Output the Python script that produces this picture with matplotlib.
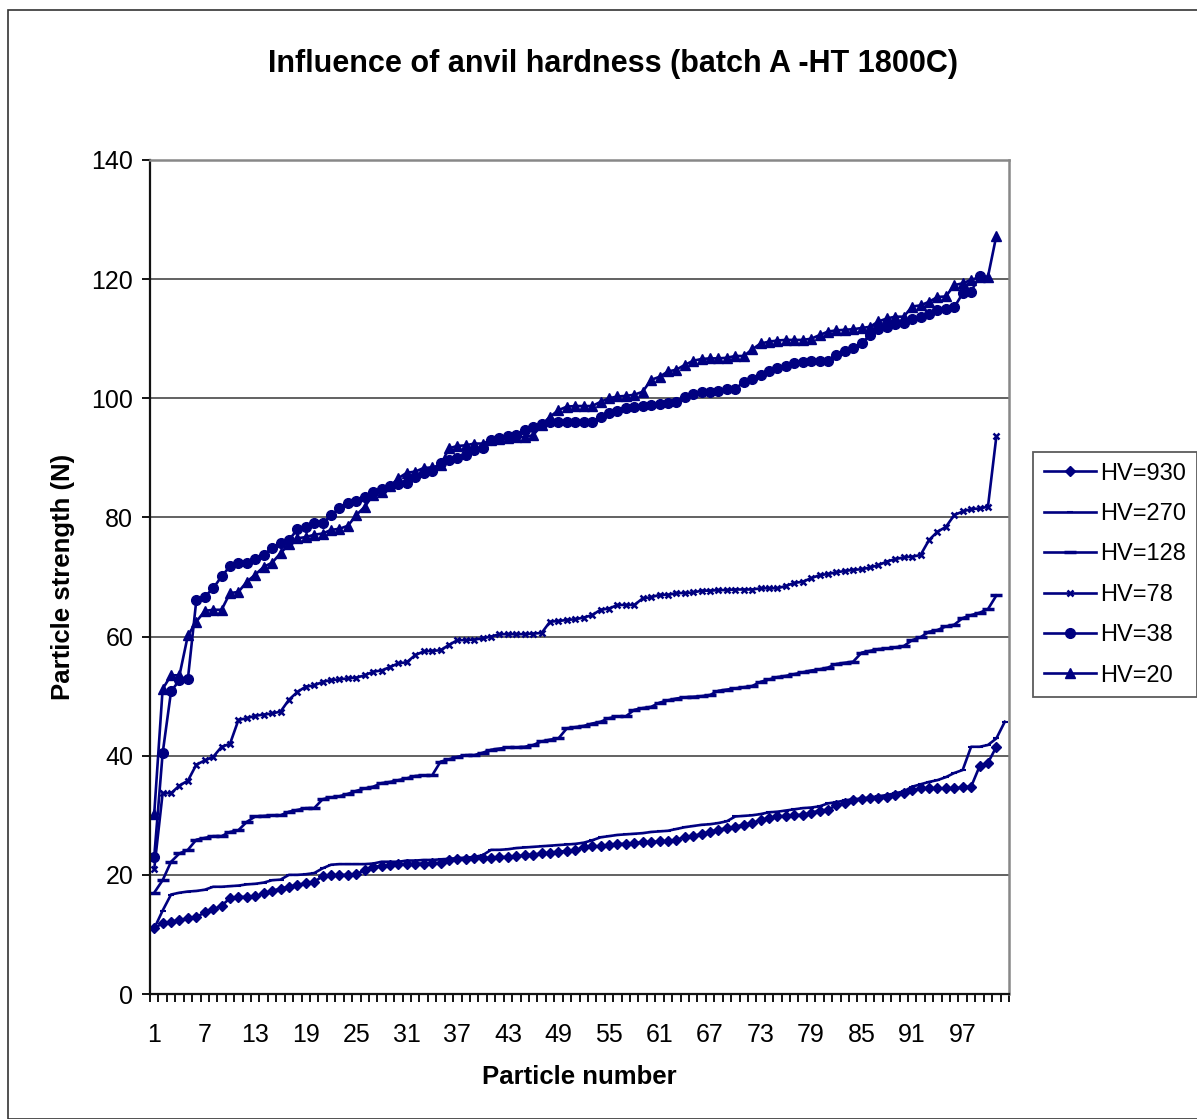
import matplotlib
matplotlib.use("Agg")
import matplotlib.pyplot as plt
from matplotlib.patches import Rectangle
import numpy as np

plt.rcParams['font.family'] = ['Liberation Sans', 'DejaVu Sans']

title = "Influence of anvil hardness (batch A -HT 1800C)"
x_label = "Particle number"
y_label = "Particle strength (N)"

n_categories = 102
x_tick_labels = [str(v) for v in range(1, 98, 6)]

hv930 = [11.0, 11.9, 12.1, 12.4, 12.7, 12.9, 13.7, 14.2, 14.8, 16.1,
         16.3, 16.3, 16.4, 16.9, 17.3, 17.7, 18.0, 18.3, 18.6, 18.8,
         19.8, 19.9, 20.0, 20.0, 20.1, 20.8, 21.4, 21.5, 21.7, 21.8,
         21.8, 21.9, 21.9, 22.0, 22.0, 22.5, 22.6, 22.6, 22.8, 22.8,
         22.9, 23.0, 23.0, 23.1, 23.3, 23.4, 23.6, 23.7, 23.9, 24.0,
         24.2, 24.6, 24.8, 24.8, 25.0, 25.2, 25.2, 25.3, 25.5, 25.5,
         25.6, 25.6, 25.9, 26.3, 26.5, 26.9, 27.2, 27.6, 27.8, 28.1,
         28.4, 28.7, 29.2, 29.5, 29.8, 29.9, 30.0, 30.1, 30.4, 30.8,
         30.9, 31.7, 32.0, 32.6, 32.7, 32.9, 32.9, 33.0, 33.4, 33.7,
         34.2, 34.5, 34.5, 34.5, 34.5, 34.5, 34.7, 34.8, 38.2, 38.8,
         41.5]

hv270 = [11.0, 14.0, 16.7, 17.0, 17.2, 17.3, 17.5, 18.0, 18.0, 18.1,
         18.2, 18.4, 18.5, 18.7, 19.1, 19.2, 20.0, 20.0, 20.1, 20.3,
         21.1, 21.7, 21.8, 21.8, 21.8, 21.8, 21.9, 22.2, 22.2, 22.2,
         22.4, 22.4, 22.5, 22.5, 22.6, 22.7, 22.8, 22.9, 23.0, 23.3,
         24.2, 24.2, 24.3, 24.5, 24.6, 24.7, 24.8, 24.9, 25.0, 25.1,
         25.2, 25.4, 25.8, 26.3, 26.5, 26.7, 26.8, 26.9, 27.0, 27.2,
         27.3, 27.4, 27.7, 28.0, 28.2, 28.4, 28.5, 28.7, 29.0, 29.8,
         29.9, 30.0, 30.2, 30.5, 30.6, 30.8, 31.0, 31.2, 31.3, 31.5,
         32.0, 32.2, 32.5, 32.7, 32.8, 33.0, 33.2, 33.4, 33.7, 34.0,
         34.8, 35.2, 35.6, 35.9, 36.4, 37.1, 37.6, 41.5, 41.5, 41.8,
         42.9, 45.7]

hv128 = [17.0, 19.1, 22.2, 23.6, 24.2, 25.9, 26.2, 26.5, 26.5, 27.2,
         27.5, 28.9, 29.8, 29.9, 30.0, 30.0, 30.6, 30.9, 31.2, 31.2,
         32.7, 33.0, 33.2, 33.6, 34.1, 34.5, 34.8, 35.4, 35.6, 35.9,
         36.2, 36.6, 36.7, 36.7, 39.0, 39.4, 39.8, 40.1, 40.1, 40.5,
         41.0, 41.2, 41.4, 41.4, 41.5, 41.8, 42.4, 42.7, 42.9, 44.6,
         44.8, 45.0, 45.4, 45.7, 46.3, 46.6, 46.6, 47.7, 48.0, 48.2,
         48.9, 49.3, 49.6, 49.8, 49.9, 50.0, 50.2, 50.9, 51.1, 51.3,
         51.5, 51.7, 52.4, 52.8, 53.2, 53.4, 53.7, 54.0, 54.3, 54.5,
         54.8, 55.4, 55.6, 55.8, 57.3, 57.6, 57.9, 58.0, 58.2, 58.4,
         59.4, 59.9, 60.8, 61.1, 61.7, 62.0, 63.1, 63.6, 64.0, 64.6,
         66.9]

hv78 = [21.0, 33.7, 33.7, 35.0, 35.8, 38.5, 39.2, 39.8, 41.5, 42.0,
        46.0, 46.3, 46.7, 46.9, 47.1, 47.4, 49.4, 50.7, 51.6, 51.8,
        52.4, 52.7, 52.8, 53.0, 53.1, 53.5, 54.1, 54.3, 54.9, 55.5,
        55.7, 56.9, 57.5, 57.6, 57.7, 58.6, 59.4, 59.4, 59.5, 59.7,
        60.0, 60.4, 60.4, 60.4, 60.4, 60.5, 60.6, 62.5, 62.6, 62.8,
        62.9, 63.2, 63.6, 64.5, 64.7, 65.3, 65.3, 65.3, 66.4, 66.6,
        67.0, 67.0, 67.3, 67.3, 67.4, 67.7, 67.7, 67.8, 67.8, 67.9,
        67.9, 67.9, 68.1, 68.1, 68.1, 68.5, 69.0, 69.2, 69.8, 70.3,
        70.5, 70.8, 71.0, 71.2, 71.3, 71.6, 72.0, 72.6, 73.0, 73.3,
        73.4, 73.7, 76.2, 77.6, 78.4, 80.4, 81.0, 81.4, 81.5, 81.8,
        93.6]

hv38 = [23.0, 40.4, 50.8, 52.7, 52.9, 66.1, 66.7, 68.1, 70.1, 71.8,
        72.3, 72.3, 73.0, 73.7, 74.9, 75.7, 76.2, 78.0, 78.4, 79.0,
        79.0, 80.4, 81.5, 82.5, 82.8, 83.5, 84.2, 84.7, 85.2, 85.6,
        85.7, 86.8, 87.4, 87.8, 89.1, 89.6, 89.9, 90.5, 91.3, 91.6,
        93.0, 93.4, 93.6, 93.8, 94.7, 95.2, 95.7, 96.0, 96.0, 96.0,
        96.0, 96.0, 96.0, 96.9, 97.5, 97.9, 98.3, 98.6, 98.7, 98.9,
        99.1, 99.2, 99.4, 100.2, 100.8, 101.0, 101.1, 101.3, 101.5, 101.5,
        102.8, 103.2, 103.9, 104.6, 105.0, 105.4, 105.9, 106.1, 106.3, 106.3,
        106.3, 107.3, 108.0, 108.4, 109.3, 110.6, 111.6, 112.0, 112.4, 112.6,
        113.3, 113.7, 114.2, 114.8, 115.0, 115.3, 117.6, 117.9, 120.5]

hv20 = [30.2, 51.2, 53.5, 53.5, 60.2, 62.5, 64.3, 64.5, 64.5, 67.3,
        67.5, 69.2, 70.4, 71.7, 72.4, 74.0, 75.5, 76.5, 76.7, 77.1,
        77.3, 77.9, 78.1, 78.6, 80.4, 81.8, 83.8, 84.2, 85.2, 86.6,
        87.5, 87.7, 88.3, 88.4, 88.8, 91.6, 92.0, 92.1, 92.4, 92.4,
        93.0, 93.1, 93.3, 93.5, 93.5, 93.8, 95.5, 96.9, 98.0, 98.6,
        98.7, 98.7, 98.7, 99.4, 100.0, 100.3, 100.4, 100.6, 101.1, 103.1,
        103.6, 104.5, 104.8, 105.6, 106.3, 106.6, 106.7, 106.7, 106.8, 107.1,
        107.1, 108.2, 109.2, 109.5, 109.7, 109.8, 109.8, 109.8, 110.0, 110.6,
        111.2, 111.4, 111.5, 111.6, 111.8, 112.0, 112.9, 113.4, 113.7, 113.7,
        115.4, 115.6, 116.2, 117.0, 117.1, 119.0, 119.3, 119.9, 120.3, 120.4,
        127.3]

series = [
    ("HV=930", hv930, dict(marker='D', markersize=5)),
    ("HV=270", hv270, dict(marker='_', markersize=4, markeredgewidth=1.5)),
    ("HV=128", hv128, dict(marker='_', markersize=9, markeredgewidth=2.5)),
    ("HV=78", hv78, dict(marker='x', markersize=4.5, markeredgewidth=1.8)),
    ("HV=38", hv38, dict(marker='o', markersize=7)),
    ("HV=20", hv20, dict(marker='^', markersize=7)),
]

navy = '#000080'

fig = plt.figure(figsize=(11.97, 11.19), dpi=100)
ax = fig.add_axes([150 / 1197, 1 - 994 / 1119, 859 / 1197, 834 / 1119])

for name, values, style in series:
    xs = np.arange(1, len(values) + 1)
    ax.plot(xs, values, color=navy, linewidth=1.9, label=name,
            markerfacecolor=navy, markeredgecolor=navy, **style)

ax.set_xlim(0.5, n_categories + 0.5)
ax.set_ylim(0, 140)

ax.set_yticks(np.arange(0, 141, 20))
ax.yaxis.grid(True, color='#555555', linewidth=1.3)
ax.set_axisbelow(True)

ax.set_xticks(np.arange(1, 98, 6))
ax.set_xticklabels(x_tick_labels)
ax.set_xticks(np.arange(0.5, n_categories + 1, 1), minor=True)
ax.tick_params(axis='x', which='major', length=0, pad=21, labelsize=18)
ax.tick_params(axis='x', which='minor', length=6, width=1.3, direction='out')
ax.tick_params(axis='y', which='major', length=6, width=1.3, direction='out',
               labelsize=18, pad=6)

for side in ('left', 'bottom'):
    ax.spines[side].set_color('#111111')
    ax.spines[side].set_linewidth(1.6)
for side in ('top', 'right'):
    ax.spines[side].set_color('#888888')
    ax.spines[side].set_linewidth(1.8)

ax.set_xlabel(x_label, fontsize=18.5, fontweight='bold', labelpad=13)
ax.set_ylabel(y_label, fontsize=18.5, fontweight='bold', labelpad=12)

fig.text(613 / 1197, 1 - 64 / 1119, title, ha='center', va='center',
         fontsize=22, fontweight='bold')

leg = fig.legend(loc='upper left', bbox_to_anchor=(1033 / 1197, 1 - 452 / 1119),
                 frameon=True, fancybox=False, edgecolor='#333333',
                 fontsize=17, handlelength=2.2, handletextpad=0.2,
                 labelspacing=0.78, borderpad=0.45, borderaxespad=0)
leg.get_frame().set_linewidth(1.3)

fig.patches.append(Rectangle((8 / 1197, 0), 1.5, 1 - 10 / 1119,
                             transform=fig.transFigure, fill=False,
                             edgecolor='#333333', linewidth=1.2))

fig.savefig('out.png', dpi=100, facecolor='white')
